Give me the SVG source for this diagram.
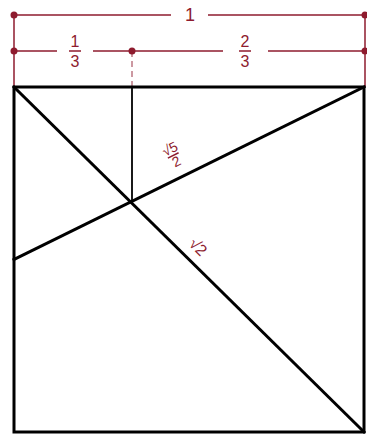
<svg xmlns="http://www.w3.org/2000/svg" width="367" height="435" viewBox="0 0 367 435">
<style>
.dim{stroke:#8e1b2e;stroke-width:1.5;fill:none}
.dot{fill:#8e1b2e}
.t{font-family:"Liberation Sans",Arial,sans-serif;fill:#8e1b2e;text-anchor:middle}
.k{stroke:#000;fill:none;stroke-linecap:square}
</style>
<rect width="367" height="435" fill="#fff"/>
<g id="dimensions">
<line class="dim" x1="14" y1="15" x2="171" y2="15"/>
<line class="dim" x1="208" y1="15" x2="365" y2="15"/>
<line class="dim" x1="14" y1="51" x2="57" y2="51"/>
<line class="dim" x1="93" y1="51" x2="223" y2="51"/>
<line class="dim" x1="268" y1="51" x2="365" y2="51"/>
<line class="dim" x1="14" y1="15" x2="14" y2="87"/>
<line class="dim" x1="365" y1="15" x2="365" y2="87"/>
<line class="dim" x1="132" y1="51" x2="132" y2="87" stroke-width="1" stroke-dasharray="6,4" opacity="0.6"/>
<circle class="dot" cx="14" cy="15" r="3.5"/>
<circle class="dot" cx="365" cy="15" r="3.5"/>
<circle class="dot" cx="14" cy="51" r="3.5"/>
<circle class="dot" cx="132" cy="51" r="3.5"/>
<circle class="dot" cx="365" cy="51" r="3.5"/>
<text class="t" x="190" y="21" font-size="18">1</text>
<text class="t" x="75" y="47" font-size="16">1</text>
<line class="dim" x1="69" y1="51" x2="81" y2="51" stroke-width="1"/>
<text class="t" x="75" y="67" font-size="16">3</text>
<text class="t" x="245" y="47" font-size="16">2</text>
<line class="dim" x1="239" y1="51" x2="251" y2="51" stroke-width="1"/>
<text class="t" x="245" y="67" font-size="16">3</text>
</g>
<g id="square">
<rect class="k" x="14" y="87" width="350" height="345" stroke-width="3"/>
</g>
<g id="connectors">
<line class="k" x1="14" y1="87" x2="364" y2="432" stroke-width="3"/>
<line class="k" x1="364" y1="87" x2="14" y2="259.5" stroke-width="3"/>
<line class="k" x1="132" y1="87" x2="132" y2="202" stroke-width="1.8"/>
</g>
<g id="label-sqrt5-2" transform="translate(173,155) rotate(-26.57)">
<text class="t" x="0" y="-2" font-size="14">√5</text>
<line class="dim" x1="-6" y1="0.5" x2="6" y2="0.5" stroke-width="1.2"/>
<text class="t" x="0" y="12" font-size="14">2</text>
</g>
<g id="label-sqrt2" transform="translate(197,248) rotate(44.6)">
<text class="t" x="0" y="4" font-size="16">√2</text>
</g>
</svg>
